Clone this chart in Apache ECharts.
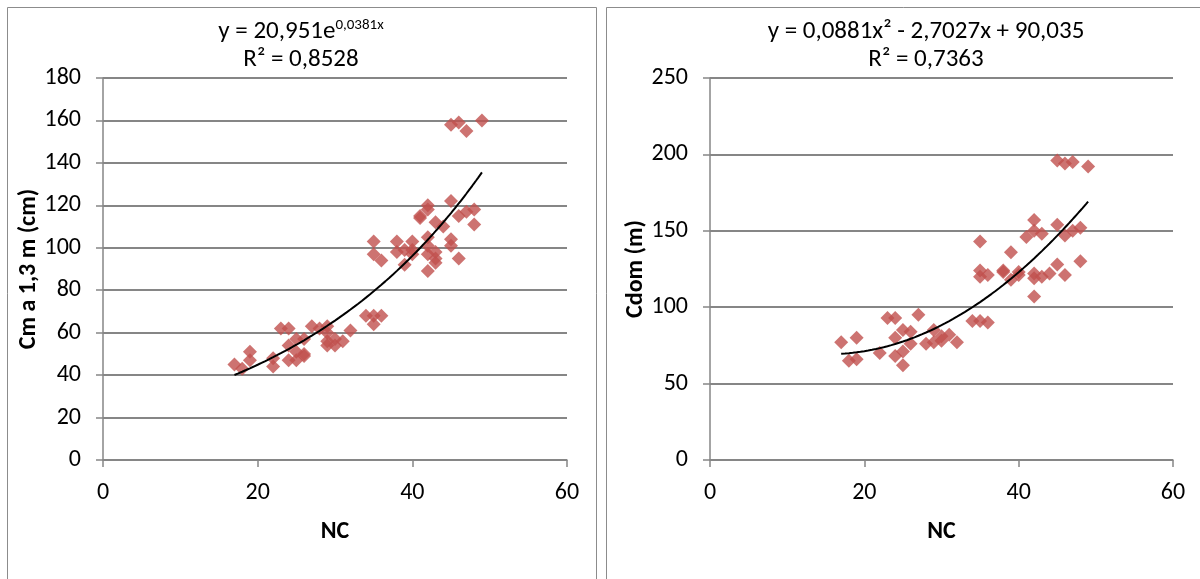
<!DOCTYPE html>
<html>
<head>
<meta charset="utf-8">
<script src="https://cdn.jsdelivr.net/npm/echarts@6/dist/echarts.min.js"></script>
<style>
html,body{margin:0;padding:0;background:#fff;}
#c{width:1200px;height:579px;}
</style>
</head>
<body>
<div id="c"></div>
<script>
// ---- Data (NC vs Cm a 1,3 m) ----
const leftPoints = [
  [17,45],[18,43],[19,51],[19,47],[22,48],[22,44],[23,62],[24,62],[24,54],[24,47],
  [25,57],[25,51],[25,47],[26,57],[26,50],[26,49],[27,63],[28,62],[29,60],[29,63],
  [29,56],[29,54],[30,57],[30,54],[31,56],[32,61],[34,68],[35,68],[35,64],[36,68],
  [35,103],[35,97],[36,94],[38,103],[38,98],[39,99],[39,92],[40,103],[40,99],[40,97],
  [41,115],[41,114],[42,118],[42,120],[42,105],[42,101],[42,97],[42,89],[43,112],[43,98],
  [43,95],[43,93],[44,110],[45,122],[45,104],[45,101],[46,115],[46,95],[47,117],[48,118],
  [48,111],[45,158],[46,159],[47,155],[49,160]
];
// ---- Data (NC vs Cdom) ----
const rightPoints = [
  [17,77],[18,65],[19,80],[19,66],[22,70],[23,93],[24,93],[24,80],[24,68],[25,85],
  [25,71],[25,62],[26,84],[26,76],[27,95],[28,76],[29,85],[29,77],[30,81],[30,78],
  [31,82],[32,77],[34,91],[35,91],[36,90],[35,143],[35,124],[35,120],[36,121],[38,124],
  [38,123],[39,136],[39,118],[40,123],[40,121],[41,146],[42,157],[42,150],[43,148],[42,122],
  [42,119],[43,120],[42,107],[44,122],[45,128],[45,154],[46,121],[46,147],[47,150],[48,152],
  [48,130],[45,196],[46,194],[47,195],[49,192]
];
const xTicks = [0, 20, 40, 60];
const leftYTicks = [0, 20, 40, 60, 80, 100, 120, 140, 160, 180];
const rightYTicks = [0, 50, 100, 150, 200, 250];
// Trendline equations shown on the chart
const leftTrend = {a: 20.951, b: 0.0381, from: 17, to: 49};
const rightTrend = {a2: 0.0881, a1: -2.7027, a0: 90.035, from: 17, to: 49};

function trendPoints(f, from, to) {
  const pts = [];
  for (let x = from; x <= to + 1e-9; x += 0.25) pts.push([x, f(x)]);
  return pts;
}
const leftTrendPts = trendPoints(x => leftTrend.a * Math.exp(leftTrend.b * x), leftTrend.from, leftTrend.to);
const rightTrendPts = trendPoints(x => rightTrend.a2 * x * x + rightTrend.a1 * x + rightTrend.a0, rightTrend.from, rightTrend.to);

const FONT = 'Carlito, "Liberation Sans", sans-serif';
const GRID_COLOR = '#868686';
const MARK = '#C0504D';

function xAxis(gi) {
  return {
    type: 'value', gridIndex: gi, min: 0, max: 60, interval: 20,
    name: 'NC', nameLocation: 'middle', nameGap: 60,
    nameTextStyle: {fontFamily: FONT, fontSize: 24, fontWeight: 'bold', color: '#000'},
    axisLine: {show: true, onZero: false, lineStyle: {color: GRID_COLOR, width: 1.5}},
    axisTick: {show: true, inside: false, length: 7, lineStyle: {color: GRID_COLOR, width: 1.5}},
    axisLabel: {fontFamily: FONT, fontSize: 24, color: '#000', margin: 21},
    splitLine: {show: false}
  };
}
function yAxis(gi, max, interval, name) {
  return {
    type: 'value', gridIndex: gi, min: 0, max: max, interval: interval,
    name: name, nameLocation: 'middle', nameGap: 62, nameRotate: 90,
    nameTextStyle: {fontFamily: FONT, fontSize: 24, fontWeight: 'bold', color: '#000'},
    axisLine: {show: true, lineStyle: {color: GRID_COLOR, width: 1.5}},
    axisTick: {show: true, inside: false, length: 7, lineStyle: {color: GRID_COLOR, width: 1.5}},
    axisLabel: {fontFamily: FONT, fontSize: 24, color: '#000', margin: 22},
    splitLine: {show: true, lineStyle: {color: GRID_COLOR, width: 2}}
  };
}

const chart = echarts.init(document.getElementById('c'), null, {renderer: 'canvas'});
const titleRich = {
  base: {fontFamily: FONT, fontSize: 25, fontWeight: 'normal', color: '#000', lineHeight: 28},
  sup: {fontFamily: FONT, fontSize: 15, fontWeight: 'normal', color: '#000', lineHeight: 28, verticalAlign: 'top', padding: [0, 0, 10, 0]}
};
chart.setOption({
  animation: false,
  backgroundColor: '#fff',
  graphic: [
    {type: 'rect', shape: {x: 7.5, y: 7.5, width: 589, height: 600}, style: {fill: null, stroke: '#8c8c8c', lineWidth: 1}},
    {type: 'rect', shape: {x: 606.5, y: 7.5, width: 620, height: 600}, style: {fill: null, stroke: '#8c8c8c', lineWidth: 1}}
  ],
  title: [
    {
      text: '{base|y = 20,951e}{sup|0,0381x}\n{base|R² = 0,8528}',
      left: 296, top: 13, textAlign: 'center',
      textStyle: {fontWeight: 'normal', rich: titleRich}
    },
    {
      text: '{base|y = 0,0881x² - 2,7027x + 90,035}\n{base|R² = 0,7363}',
      left: 921, top: 13, textAlign: 'center',
      textStyle: {fontWeight: 'normal', rich: titleRich}
    }
  ],
  grid: [
    {left: 103, top: 78, width: 464, height: 382},
    {left: 710, top: 78, width: 463, height: 382}
  ],
  xAxis: [xAxis(0), xAxis(1)],
  yAxis: [
    yAxis(0, 180, 20, 'Cm a 1,3 m (cm)'),
    yAxis(1, 250, 50, 'Cdom (m)')
  ],
  series: [
    {type: 'scatter', xAxisIndex: 0, yAxisIndex: 0, data: leftPoints, symbol: 'diamond', symbolSize: 14, itemStyle: {color: MARK}},
    {type: 'line', xAxisIndex: 0, yAxisIndex: 0, data: leftTrendPts, showSymbol: false, smooth: false, lineStyle: {color: '#000', width: 2}},
    {type: 'scatter', xAxisIndex: 1, yAxisIndex: 1, data: rightPoints, symbol: 'diamond', symbolSize: 14, itemStyle: {color: MARK}},
    {type: 'line', xAxisIndex: 1, yAxisIndex: 1, data: rightTrendPts, showSymbol: false, smooth: false, lineStyle: {color: '#000', width: 2}}
  ]
});
</script>
</body>
</html>
